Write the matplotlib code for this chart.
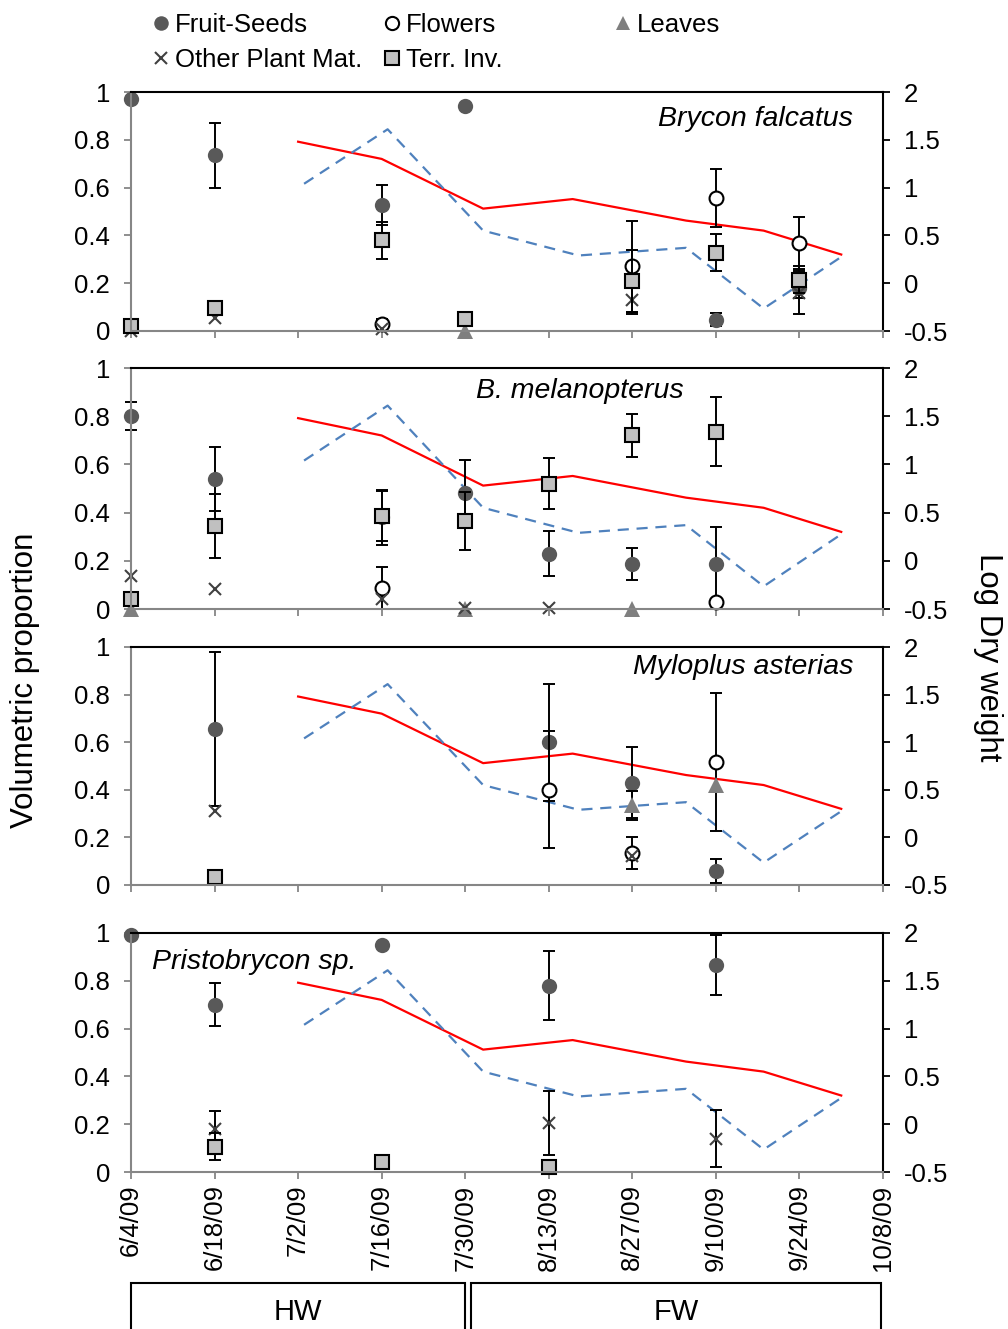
import warnings; warnings.filterwarnings("ignore")
import numpy as np
import pandas as pd
import matplotlib; matplotlib.use("Agg")
import matplotlib.pyplot as plt
import matplotlib.dates as mdates
from matplotlib.lines import Line2D
from matplotlib.patches import Rectangle

plt.rcParams["font.family"] = ["Liberation Sans", "DejaVu Sans"]

# ---- diet data: (dates, mean proportion, +/- error) per food class ----
BF_FRUIT   = (["6/4/09", "6/18/09", "7/16/09", "7/30/09", "9/10/09", "9/24/09"],
              [0.97, 0.735, 0.527, 0.94, 0.047, 0.18],
              [0, 0.137, 0.085, 0, 0.028, 0.04])
BF_FLOWER  = (["7/16/09", "8/27/09", "9/10/09", "9/24/09"],
              [0.03, 0.27, 0.557, 0.367],
              [0.02, 0.19, 0.122, 0.108])
BF_LEAVES  = (["7/30/09"], [0.0], [0])
BF_OTHER   = (["6/4/09", "6/18/09", "7/16/09", "8/27/09", "9/24/09"],
              [0.0, 0.055, 0.01, 0.13, 0.16],
              [0, 0, 0, 0.06, 0.09])
BF_TERR    = (["6/4/09", "6/18/09", "7/16/09", "7/30/09", "8/27/09", "9/10/09", "9/24/09"],
              [0.02, 0.095, 0.38, 0.05, 0.21, 0.327, 0.215],
              [0, 0.03, 0.078, 0, 0.13, 0.078, 0.055])

BM_FRUIT   = (["6/4/09", "6/18/09", "7/16/09", "7/30/09", "8/13/09", "8/27/09", "9/10/09"],
              [0.80, 0.54, 0.38, 0.48, 0.23, 0.187, 0.187],
              [0.057, 0.133, 0.115, 0.14, 0.095, 0.065, 0.153])
BM_FLOWER  = (["7/16/09", "9/10/09"], [0.088, 0.03], [0.088, 0])
BM_LEAVES  = (["6/4/09", "7/30/09", "8/27/09"], [0.0, 0.0, 0.0], [0, 0, 0])
BM_OTHER   = (["6/4/09", "6/18/09", "7/16/09", "7/30/09", "8/13/09"],
              [0.137, 0.083, 0.04, 0.005, 0.005], [0, 0, 0, 0, 0])
BM_TERR    = (["6/4/09", "6/18/09", "7/16/09", "7/30/09", "8/13/09", "8/27/09", "9/10/09"],
              [0.04, 0.345, 0.386, 0.365, 0.52, 0.72, 0.735],
              [0, 0.133, 0.105, 0.12, 0.105, 0.088, 0.143])

MA_FRUIT   = (["6/18/09", "8/13/09", "8/27/09", "9/10/09"],
              [0.655, 0.60, 0.43, 0.06], [0.325, 0.245, 0.15, 0.05])
MA_FLOWER  = (["8/13/09", "8/27/09", "9/10/09"],
              [0.40, 0.135, 0.518], [0.245, 0.068, 0.29])
MA_LEAVES  = (["8/27/09", "9/10/09"], [0.335, 0.42], [0.06, 0])
MA_OTHER   = (["6/18/09", "8/27/09"], [0.31, 0.12], [0, 0])
MA_TERR    = (["6/18/09"], [0.035], [0])

PS_FRUIT   = (["6/4/09", "6/18/09", "7/16/09", "8/13/09", "9/10/09"],
              [0.99, 0.70, 0.95, 0.78, 0.866], [0, 0.09, 0, 0.146, 0.125])
PS_FLOWER  = ([], [], [])
PS_LEAVES  = ([], [], [])
PS_OTHER   = (["6/18/09", "8/13/09", "9/10/09"],
              [0.18, 0.205, 0.14], [0.077, 0.135, 0.118])
PS_TERR    = (["6/18/09", "7/16/09", "8/13/09"],
              [0.106, 0.04, 0.02], [0.056, 0, 0])

# ---- log dry weight series (right axis) ----
RED_DATES  = ["7/2/09", "7/16/09", "8/2/09", "8/17/09", "9/5/09", "9/18/09", "10/1/09"]
RED_VALS   = [1.48, 1.30, 0.78, 0.88, 0.655, 0.55, 0.30]
BLUE_DATES = ["7/3/09", "7/17/09", "8/2/09", "8/18/09", "9/5/09", "9/18/09", "10/1/09"]
BLUE_VALS  = [1.04, 1.61, 0.55, 0.29, 0.37, -0.265, 0.275]

SPECIES = ["Brycon falcatus", "B. melanopterus", "Myloplus asterias", "Pristobrycon sp."]
PANELS = [
    (BF_FRUIT, BF_FLOWER, BF_LEAVES, BF_OTHER, BF_TERR),
    (BM_FRUIT, BM_FLOWER, BM_LEAVES, BM_OTHER, BM_TERR),
    (MA_FRUIT, MA_FLOWER, MA_LEAVES, MA_OTHER, MA_TERR),
    (PS_FRUIT, PS_FLOWER, PS_LEAVES, PS_OTHER, PS_TERR),
]
CLASS_NAMES = ["Fruit-Seeds", "Flowers", "Leaves", "Other Plant Mat.", "Terr. Inv."]
X_TICKS = ["6/4/09", "6/18/09", "7/2/09", "7/16/09", "7/30/09",
           "8/13/09", "8/27/09", "9/10/09", "9/24/09", "10/8/09"]
LEFT_TICKS = [0, 0.2, 0.4, 0.6, 0.8, 1]
RIGHT_TICKS = [-0.5, 0, 0.5, 1, 1.5, 2]


def to_num(dates):
    return mdates.date2num(pd.to_datetime(dates, format="%m/%d/%y")) if dates else np.array([])


def fmt(v):
    return ("%g" % v)


STYLES = [
    dict(marker="o", ms=11, mfc="#595959", mec="#595959", mew=0),
    dict(marker="o", ms=10, mfc="white", mec="black", mew=1.5),
    dict(marker="^", ms=11, mfc="#7f7f7f", mec="#7f7f7f", mew=0),
    dict(marker="x", ms=9, mfc="#404040", mec="#404040", mew=1.5),
    dict(marker="s", ms=10, mfc="#c0c0c0", mec="black", mew=1.5),
]

GRAY = "#868686"
TICK_FS = 18.5
fig = plt.figure(figsize=(10.08, 13.29), dpi=100)
W, H = 1008, 1329
rows = [(92, 331), (368, 609), (647, 885), (933, 1172)]
text_pos = [(0.960, 0.887, "right"), (0.735, 0.905, "right"),
            (0.960, 0.916, "right"), (0.028, 0.879, "left")]

xt = to_num(X_TICKS)
for i, (top, bot) in enumerate(rows):
    ax = fig.add_axes([131 / W, 1 - bot / H, 752 / W, (bot - top) / H])
    ax2 = ax.twinx()
    ax2.plot(to_num(RED_DATES), RED_VALS, color="#ff0000", lw=1.6)
    ax2.plot(to_num(BLUE_DATES), BLUE_VALS, color="#4f81bd", lw=1.6,
             dashes=(5, 3.5))
    ax2.set_ylim(-0.5, 2)
    ax2.set_yticks(RIGHT_TICKS)
    ax2.set_yticklabels([fmt(v) for v in RIGHT_TICKS], fontsize=TICK_FS)
    ax2.tick_params(axis="y", direction="out", length=5, width=1.3,
                    color="black", pad=10)
    for sp in ax2.spines.values():
        sp.set_visible(False)
    ax2.spines["right"].set_visible(True)
    ax2.spines["right"].set_color("black")
    ax2.spines["right"].set_linewidth(1.5)

    ax.set_zorder(ax2.get_zorder() + 1)
    ax.patch.set_visible(False)
    for series, st in zip(PANELS[i], STYLES):
        dates, vals, errs = series
        if not dates:
            continue
        x = to_num(dates)
        v = np.array(vals)
        e = np.array(errs, dtype=float)
        has = e > 0
        if has.any():
            ax.errorbar(x[has], v[has], yerr=e[has], fmt="none", ecolor="black",
                        elinewidth=1.4, capsize=4.5, capthick=1.4, clip_on=False)
        ax.plot(x, v, ls="none", clip_on=False, **st)

    ax.set_xlim(xt[0], xt[-1])
    ax.set_ylim(0, 1)
    ax.set_yticks(LEFT_TICKS)
    ax.set_yticklabels([fmt(v) for v in LEFT_TICKS], fontsize=TICK_FS)
    ax.set_xticks(xt)
    if i == 3:
        ax.set_xticklabels(X_TICKS, rotation=90, fontsize=TICK_FS)
    else:
        ax.set_xticklabels([])
    ax.tick_params(axis="both", direction="out", length=5, width=1.3,
                   color=GRAY, pad=10)
    ax.tick_params(axis="x", pad=4)
    ax.spines["left"].set_color(GRAY)
    ax.spines["bottom"].set_color(GRAY)
    ax.spines["top"].set_color("black")
    ax.spines["right"].set_visible(False)
    for sp in ax.spines.values():
        sp.set_linewidth(1.5)

    tx, ty, ha = text_pos[i]
    ax.text(tx, ty, SPECIES[i], transform=ax.transAxes, ha=ha, va="center",
            fontsize=20.5, style="italic")

# legend laid out as three columns
handles = [Line2D([], [], ls="none", **dict(st, ms=st["ms"] * 0.95)) for st in STYLES]
cols = [([0, 3], 152), ([1, 4], 383), ([2], 614)]
for idx, xpx in cols:
    fig.legend([handles[k] for k in idx], [CLASS_NAMES[k] for k in idx],
               loc="upper left", bbox_to_anchor=(xpx / W, 1 - 13 / H),
               frameon=False, fontsize=18.5, handlelength=0.7, handletextpad=0.2,
               labelspacing=0.42, borderpad=0, borderaxespad=0)

fig.text(25 / W, 1 - 680 / H, "Volumetric proportion", rotation=90,
         ha="center", va="center", fontsize=22.5)
fig.text(988 / W, 1 - 657 / H, "Log Dry weight", rotation=270,
         ha="center", va="center", fontsize=22.5)

# hydrological period boxes under the date axis
for x0, x1, lab in [(131, 465, "HW"), (471, 881, "FW")]:
    fig.patches.append(Rectangle((x0 / W, -0.01), (x1 - x0) / W, 0.01 + (1329 - 1283) / H,
                                 transform=fig.transFigure, fill=False,
                                 edgecolor="black", lw=1.5))
    fig.text((x0 + x1) / 2 / W, 1 - 1312 / H, lab, ha="center", va="center",
             fontsize=21)

fig.savefig("out.png", dpi=100)
